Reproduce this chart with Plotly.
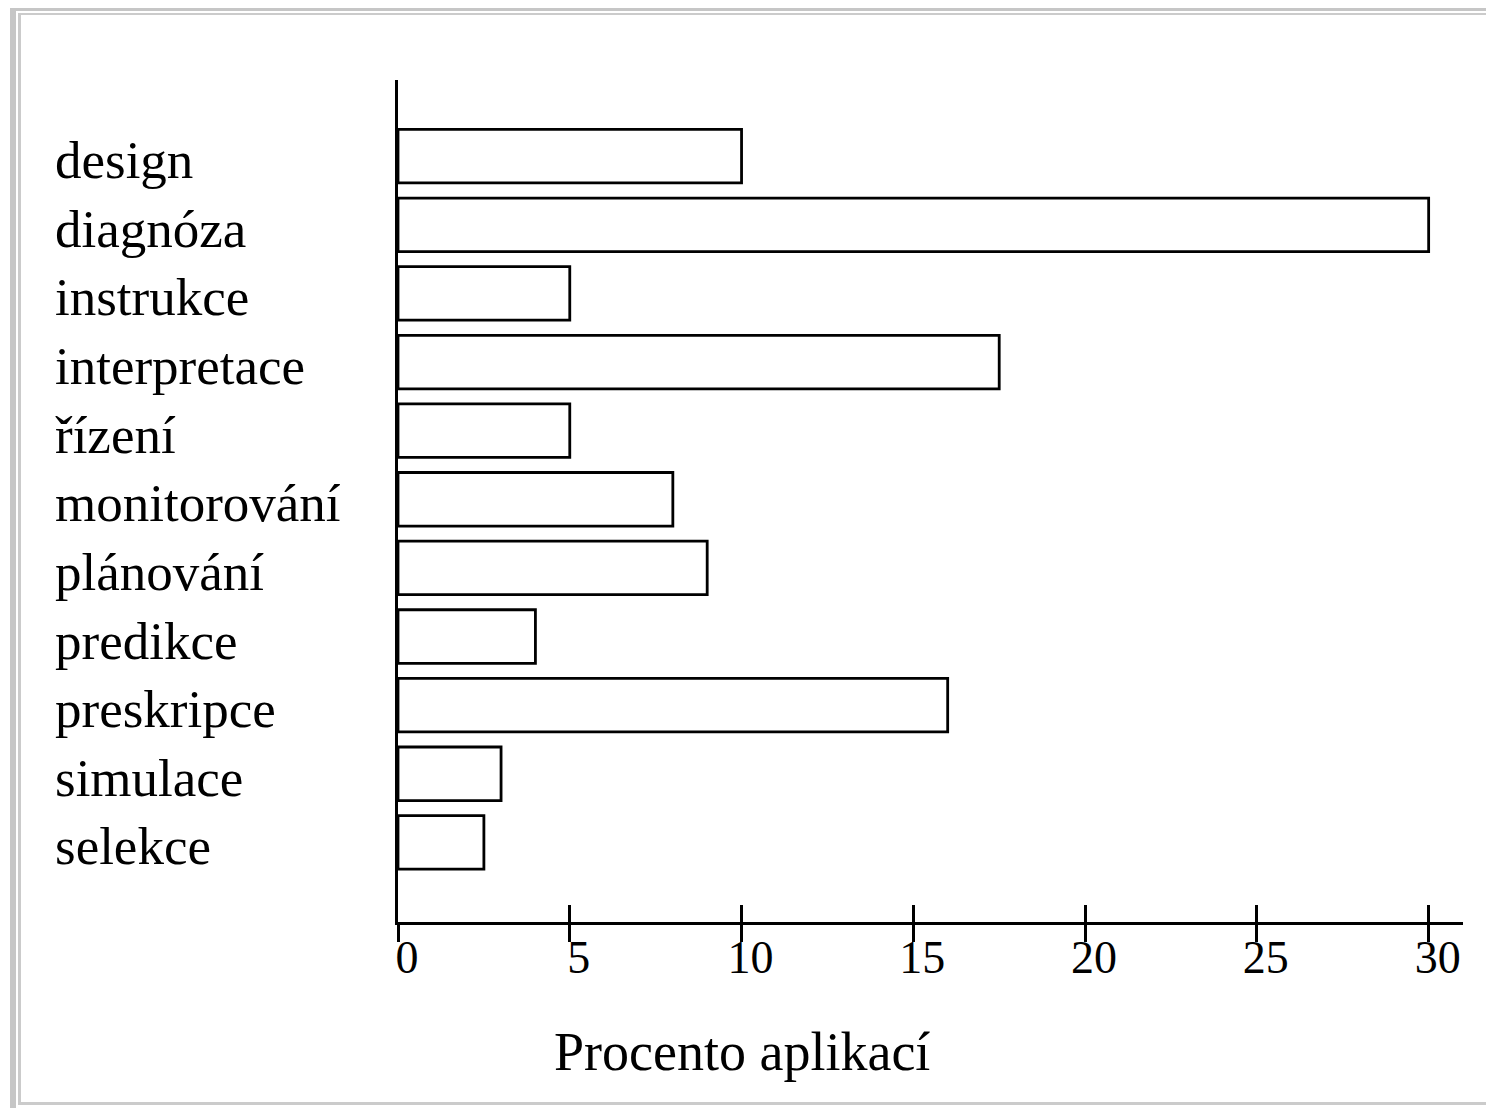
import plotly.graph_objects as go

categories = ["design", "diagnóza", "instrukce", "interpretace", "řízení",
              "monitorování", "plánování", "predikce", "preskripce",
              "simulace", "selekce"]
values = [10, 30, 5, 17.5, 5, 8, 9, 4, 16, 3, 2.5]
x_ticks = [0, 5, 10, 15, 20, 25, 30]
x_title = "Procento aplikací"

OFF = 8  # page body margin of the browser
W, H = 1494 - OFF, 1108 - OFF
L, R, T, B = 398 - OFF, 31, 80 - OFF, 186
PW, PH = W - L - R, H - T - B
FONT = "Liberation Serif"


def px(xpix):
    return (xpix - OFF - L) / PW


def py(ypix):
    return (H - B - (ypix - OFF)) / PH


fig = go.Figure()
fig.add_trace(go.Bar(
    x=values, y=categories, orientation="h", width=0.78,
    marker=dict(color="white", line=dict(color="black", width=2.8)),
    showlegend=False, hoverinfo="x+y",
))
# invisible helper trace so the overlay axis (upward half of ticks) is drawn
fig.add_trace(go.Scatter(x=[None], y=[None], xaxis="x2", showlegend=False,
                         hoverinfo="skip"))

fig.update_layout(
    width=W, height=H,
    margin=dict(l=L, r=R, t=T, b=B),
    paper_bgcolor="white", plot_bgcolor="white",
    font=dict(family=FONT, color="black"),
    xaxis=dict(range=[0, 31], tickvals=x_ticks, ticktext=[str(v) for v in x_ticks],
               ticks="outside", ticklen=17, tickwidth=2.5, tickcolor="black",
               showline=True, linewidth=2.5, linecolor="black",
               showgrid=False, zeroline=False,
               tickfont=dict(family=FONT, size=46, color="black"),
               ticklabelshift=9, ticklabelstandoff=-24, fixedrange=True),
    xaxis2=dict(range=[0, 31], overlaying="x", anchor="y", side="bottom",
                tickvals=x_ticks, ticks="inside", ticklen=17, tickwidth=2.5,
                tickcolor="black", showticklabels=False, showline=False,
                showgrid=False, zeroline=False, fixedrange=True),
    yaxis=dict(categoryorder="array", categoryarray=categories,
               range=[10.5 + 0.66, -1.11], showticklabels=False, ticks="",
               showline=True, linewidth=2.5, linecolor="black",
               showgrid=False, zeroline=False, fixedrange=True),
)

for c in categories:
    fig.add_annotation(x=px(53), xref="paper", y=c, yref="y", text=c,
                       xanchor="left", yanchor="middle", showarrow=False,
                       yshift=-4,
                       font=dict(family=FONT, size=53, color="black"))

fig.add_annotation(x=10, xref="x", y=py(1052), yref="paper", text=x_title,
                   xanchor="center", yanchor="middle", showarrow=False,
                   font=dict(family=FONT, size=54, color="black"))

# light grey frame around the picture
g1, g2 = "#c6c6c6", "#cbcbcb"
frame = [
    (10, 16, 5, 1108, g1),      # outer left band
    (10, 1494, 5, 11, g1),      # outer top band
    (18, 21, 13, 1103, g2),     # inner left line
    (18, 1494, 13, 15, g2),     # inner top line
    (18, 1494, 1102, 1105, g2), # bottom line
]
for x0, x1, y0, y1, col in frame:
    fig.add_shape(type="rect", xref="paper", yref="paper",
                  x0=px(x0), x1=px(x1), y0=py(y0), y1=py(y1),
                  fillcolor=col, line=dict(width=0), layer="below")

fig.write_html("out.html")
